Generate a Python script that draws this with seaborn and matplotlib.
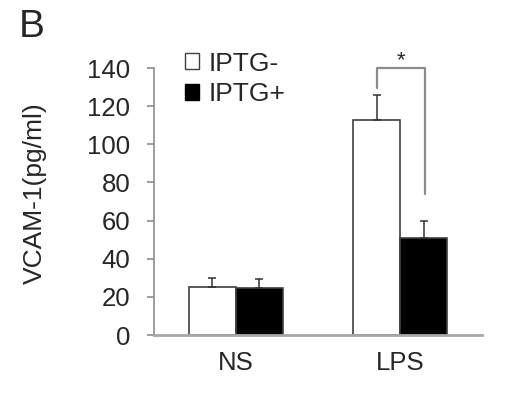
import numpy as np
import pandas as pd
import matplotlib
matplotlib.use("Agg")
import matplotlib.pyplot as plt
from matplotlib.patches import Patch
import seaborn as sns

# ── Data ──────────────────────────────────────────────────────────────────────
groups   = ["NS", "LPS"]
hues     = ["IPTG-", "IPTG+"]
iptg_neg = [25.3, 112.9]
iptg_pos = [24.8, 51.0]
err_neg  = [4.4, 12.9]
err_pos  = [4.4, 8.8]

# bracket ends (data units) and the star
brk_top   = 140
brk_left  = 129.6
brk_right = 74.0

df = pd.DataFrame({
    "group": groups * 2,
    "iptg": [hues[0]] * 2 + [hues[1]] * 2,
    "value": iptg_neg + iptg_pos,
    "err": err_neg + err_pos,
})

# ── Style ─────────────────────────────────────────────────────────────────────
sns.set_style("white")
plt.rcParams["font.family"] = ["Liberation Sans", "DejaVu Sans"]
AX_GRAY = "#8c8c8c"

fig = plt.figure(figsize=(5.2, 3.96), dpi=100)
ax = fig.add_axes([0.296, 0.154, 0.631, 0.674])

sns.barplot(data=df, x="group", y="value", hue="iptg", order=groups,
            hue_order=hues, palette=["white", "black"], width=0.573, gap=0,
            errorbar=None, edgecolor="#404040", linewidth=1.2, legend=False,
            ax=ax)

# one-sided (upper) error bars at the bar centres
for bar, (_, row) in zip(ax.patches, df.iterrows()):
    xc = bar.get_x() + bar.get_width() / 2
    ax.errorbar(xc, row["value"], yerr=[[0], [row["err"]]], fmt="none",
                ecolor="#333333", elinewidth=1.1, capsize=3, capthick=1.1)

# significance bracket between the two LPS bars
b_neg, b_pos = ax.patches[1], ax.patches[3]
x1 = b_neg.get_x() + b_neg.get_width() / 2
x2 = b_pos.get_x() + b_pos.get_width() / 2 + 0.01
ax.plot([x1, x1, x2, x2], [brk_left, brk_top, brk_top, brk_right],
        color=AX_GRAY, linewidth=1.6, clip_on=False)
ax.text((x1 + x2) / 2, brk_top - 1.5, "*", ha="center", va="bottom",
        fontsize=16)

ax.set_xlim(-0.5, 1.5)
ax.set_ylim(0, 140)
ax.set_yticks(np.arange(0, 141, 20))
ax.set_xlabel("")
ax.set_ylabel("VCAM-1(pg/ml)", fontsize=19, labelpad=29)
ax.yaxis.label.set_y(0.53)

sns.despine(ax=ax)
ax.spines["left"].set_color(AX_GRAY)
ax.spines["left"].set_linewidth(1.2)
ax.spines["bottom"].set_color("#a8a8a8")
ax.spines["bottom"].set_linewidth(2)
ax.tick_params(axis="y", direction="out", left=True, length=5, width=1.2,
               color=AX_GRAY, labelsize=18.5, pad=12)
ax.tick_params(axis="x", bottom=False, labelsize=18.5, pad=8)

handles = [Patch(facecolor="white", edgecolor="#404040", linewidth=1),
           Patch(facecolor="black", edgecolor="black")]
fig.legend(handles, hues, loc="upper left", bbox_to_anchor=(0.33, 0.903),
           frameon=False, fontsize=19, handlelength=0.55, handleheight=0.55,
           handletextpad=0.35, labelspacing=0.25, borderpad=0)

fig.text(0.036, 0.978, "B", fontsize=28, ha="left", va="top")

fig.savefig("out.png", dpi=100)
